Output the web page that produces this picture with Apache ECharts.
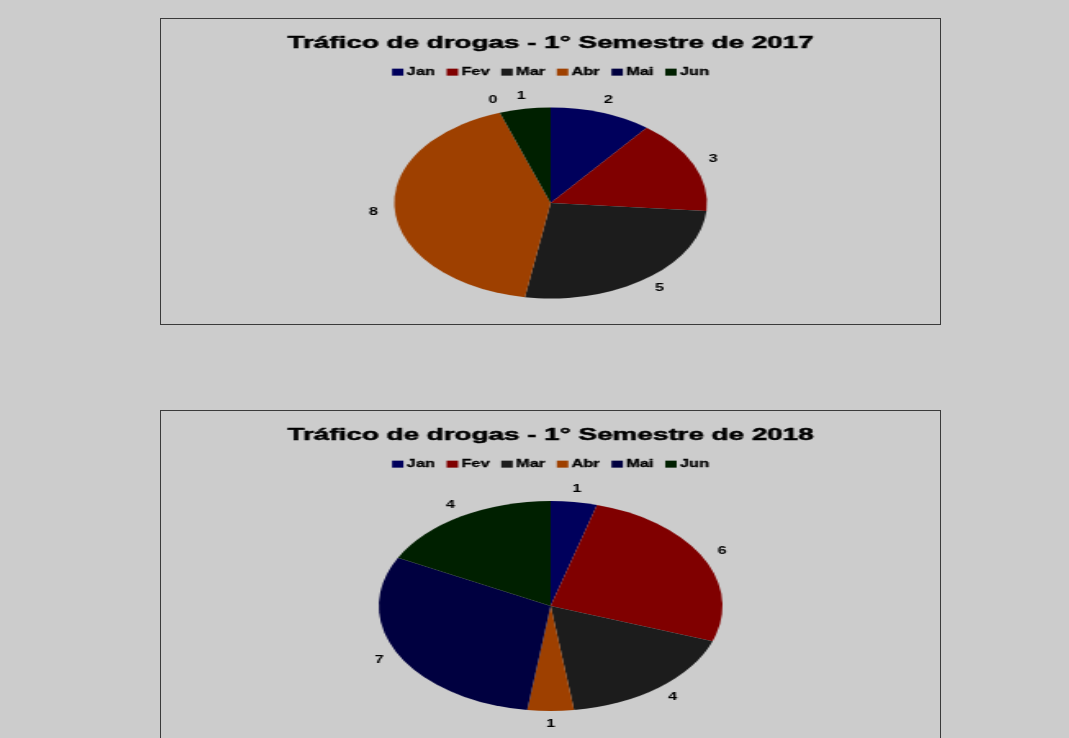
<!DOCTYPE html>
<html>
<head>
<meta charset="utf-8">
<script src="https://cdn.jsdelivr.net/npm/echarts@6/dist/echarts.min.js"></script>
<style>
    body { margin: 0; background: #cccccc; width: 1069px; height: 738px; overflow: hidden; position: relative; }
    .box { position: absolute; left: 160px; width: 779px; border: 1px solid #3a3a3a; overflow: hidden; }
    .box1 { top: 18px; height: 305px; }
    .box2 { top: 410px; height: 340px; }
    /* a imagem original está esticada na horizontal */
    .chart { width: 476px; height: 100%; transform: scaleX(1.637); transform-origin: 0 0; }
</style>
</head>
<body>
<div class="box box1"><div class="chart"></div></div>
<div class="box box2"><div class="chart"></div></div>
<script>
var meses = ['Jan', 'Fev', 'Mar', 'Abr', 'Mai', 'Jun'];
var valores2017 = [2, 3, 5, 8, 0, 1];
var valores2018 = [1, 6, 4, 1, 7, 4];
var titulo2017 = 'Tráfico de drogas - 1° Semestre de 2017';
var titulo2018 = 'Tráfico de drogas - 1° Semestre de 2018';
var cores = ['#00005c', '#800000', '#1c1c1c', '#9e4000', '#000040', '#002000'];

function pizza(seletor, titulo, valores, centroY, raio) {
    var myChart = echarts.init(document.querySelector(seletor));
    var dados = meses.map(function (m, i) {
        return { name: m, value: valores[i] };
    });
    var option = {
        color: cores,
        animation: false,
        textStyle: { fontFamily: 'Liberation Sans', fontWeight: 'bold' },
        title: {
            text: titulo,
            left: 'center',
            top: 11,
            textStyle: {
                fontSize: 17, fontWeight: 'bold', color: '#000', fontFamily: 'Liberation Sans',
                textBorderColor: '#000', textBorderWidth: 0.5
            }
        },
        legend: {
            top: 43,
            left: 'center',
            itemWidth: 7,
            itemHeight: 7,
            itemGap: 7,
            icon: 'rect',
            textStyle: {
                fontSize: 10, fontWeight: 'bold', color: '#000', padding: [0, 0, 0, -3],
                textBorderColor: '#000', textBorderWidth: 0.3
            },
            data: meses
        },
        series: [
            {
                // a pizza
                type: 'pie',
                center: ['50%', centroY],
                radius: raio,
                avoidLabelOverlap: false,
                itemStyle: { borderWidth: 0 },
                label: { show: false },
                labelLine: { show: false },
                data: dados
            },
            {
                // anel invisível só para os rótulos ficarem centrados fora da pizza
                type: 'pie',
                center: ['50%', centroY],
                radius: [raio + 2, raio + 18],
                silent: true,
                avoidLabelOverlap: false,
                itemStyle: { color: 'rgba(0,0,0,0)', borderWidth: 0 },
                label: {
                    show: true,
                    position: 'inside',
                    formatter: '{c}',
                    fontSize: 10,
                    fontWeight: 'bold',
                    color: '#000'
                },
                labelLine: { show: false },
                emphasis: { disabled: true },
                data: dados
            }
        ]
    };
    myChart.setOption(option);
}

pizza('.box1 .chart', titulo2017, valores2017, 184, 95.5);
pizza('.box2 .chart', titulo2018, valores2018, 195, 105);
</script>
</body>
</html>
